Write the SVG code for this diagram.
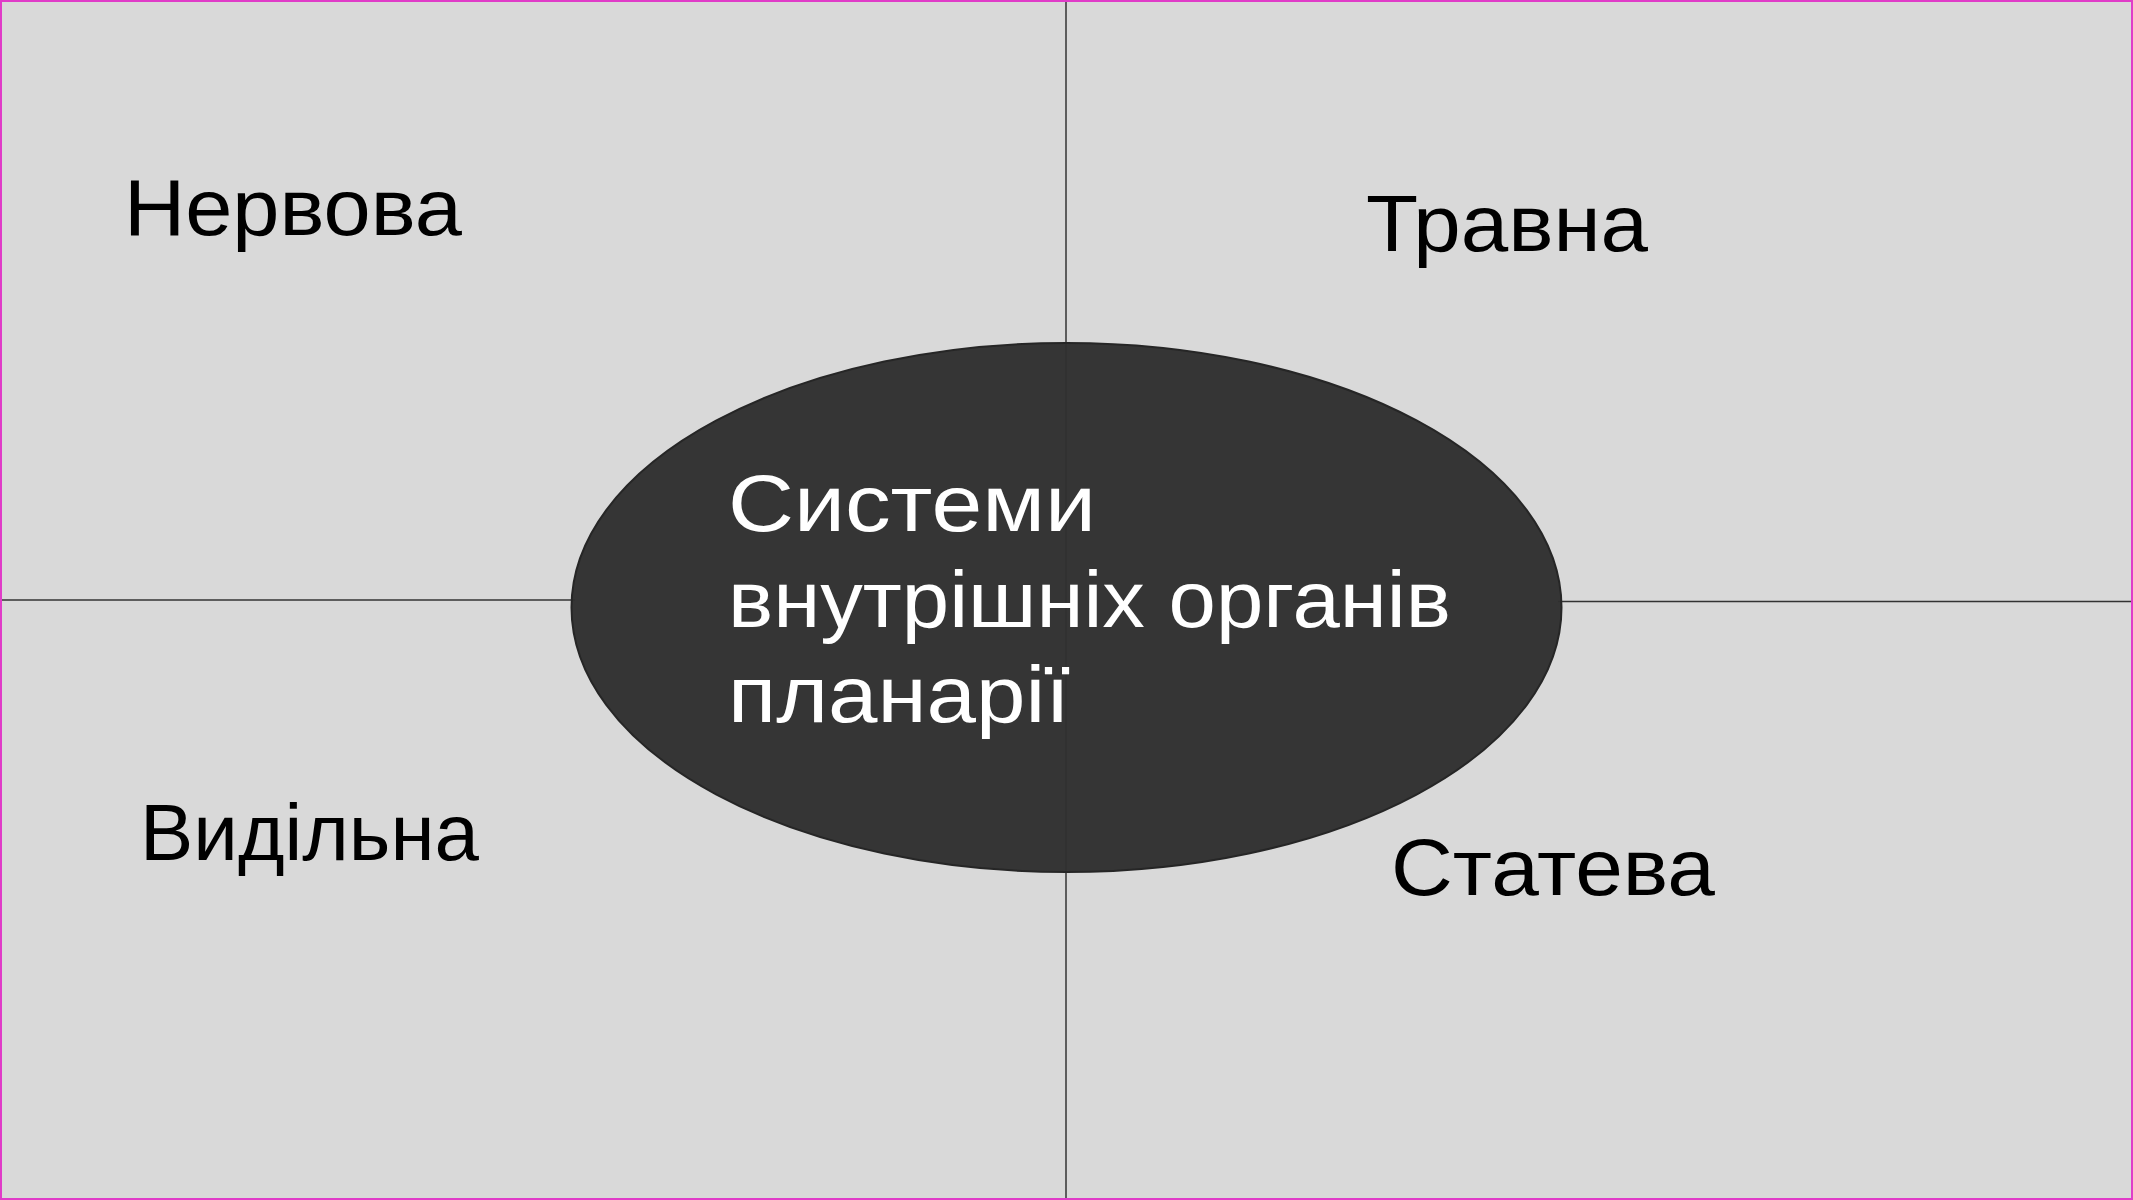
<svg xmlns="http://www.w3.org/2000/svg" width="2133" height="1200" viewBox="0 0 2133 1200">
  <style>
    .lbl { font-family: "Liberation Sans", Arial, sans-serif; font-size: 80px; fill: #000000; }
    .ctr { font-family: "Liberation Sans", Arial, sans-serif; font-size: 80px; fill: #ffffff; }
    .ln { stroke: #333333; stroke-width: 1.5; fill: none; }
  </style>
  <rect x="0" y="0" width="2133" height="1200" fill="#d9d9d9"/>
  <g id="connectors">
    <line class="ln" x1="1066" y1="0" x2="1066" y2="1200"/>
    <line class="ln" x1="0" y1="600" x2="575" y2="600"/>
    <line class="ln" x1="1558" y1="601.5" x2="2133" y2="601.5"/>
  </g>
  <g id="center">
    <ellipse cx="1066.5" cy="607.5" rx="495" ry="264.5" fill="#303030" fill-opacity="0.97" stroke="#262626" stroke-width="2"/>
    <text class="ctr" x="728" y="531" textLength="368" lengthAdjust="spacingAndGlyphs">Системи</text>
    <text class="ctr" x="728" y="627" textLength="723" lengthAdjust="spacingAndGlyphs">внутрішніх органів</text>
    <text class="ctr" x="728" y="722" textLength="342" lengthAdjust="spacingAndGlyphs">планарії</text>
  </g>
  <g id="nervova">
    <text class="lbl" x="124" y="235" textLength="338" lengthAdjust="spacingAndGlyphs">Нервова</text>
  </g>
  <g id="travna">
    <text class="lbl" x="1366" y="251" textLength="282" lengthAdjust="spacingAndGlyphs">Травна</text>
  </g>
  <g id="vydilna">
    <text class="lbl" x="140" y="860" textLength="339" lengthAdjust="spacingAndGlyphs">Видільна</text>
  </g>
  <g id="stateva">
    <text class="lbl" x="1391" y="895" textLength="324" lengthAdjust="spacingAndGlyphs">Статева</text>
  </g>
  <rect x="1" y="1" width="2131" height="1198" fill="none" stroke="#e03cc8" stroke-width="2"/>
</svg>
